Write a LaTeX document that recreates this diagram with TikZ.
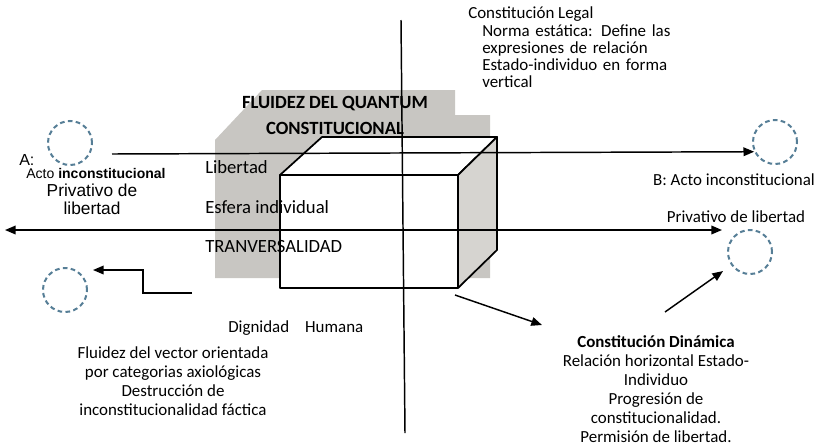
\documentclass[tikz,border=0pt]{standalone}
\usepackage{fontspec}
\setmainfont{Carlito}
\newfontfamily\arialfont{Liberation Sans}
\usetikzlibrary{arrows.meta}
\definecolor{circblue}{RGB}{86,126,150}
\definecolor{shadegray}{RGB}{200,198,194}
\definecolor{sidegray}{RGB}{214,212,208}
\lineskiplimit=-20pt
\begin{document}
\begin{tikzpicture}[x=0.75pt,y=-0.75pt,
    vec/.style={line width=1.1pt,-{Triangle[length=8pt,width=6.5pt]}},
    axis/.style={line width=1.1pt},
    ring/.style={circle,draw=circblue,line width=1.5pt,dash pattern=on 3.5pt off 2.5pt,minimum size=33pt,inner sep=0pt},
    face/.style={draw,line width=1.3pt,line join=round},
    txt/.style={inner sep=0pt,font=\fontsize{12.7}{14.25}\selectfont},
    bigtxt/.style={inner sep=0pt,font=\fontsize{14}{19.5}\selectfont}]
                    \useasboundingbox (0,0) rectangle (821,447);
                    
                    % Drawing grey shade behind the block
                    \fill [shadegray] (215,278) -- (215,140) -- (262,90) -- (455,90) -- (455,115) -- (490,115) -- (490,278) -- cycle;%
                    
                    % Drawing block faces
                    \coordinate (fa) at (280,175);%
                    \coordinate (fb) at (458,175);%
                    \coordinate (fc) at (458,288);%
                    \coordinate (fd) at (280,288);%
                    \coordinate (ba) at (322,137);%
                    \coordinate (bb) at (497,137);%
                    \coordinate (bc) at (497,250);%
                    \filldraw [face, fill=white] (fa) -- (fb) -- (fc) -- (fd) -- cycle;%
                    \filldraw [face, fill=white] (fa) -- (ba) -- (bb) -- (fb) -- cycle;%
                    \filldraw [face, fill=sidegray] (fb) -- (bb) -- (bc) -- (fc) -- cycle;%
                    
                    % Marking title and block texts
                    \node (title) [bigtxt, font=\fontsize{14}{19.5}\selectfont\bfseries, align=center] at (335,115) {FLUIDEZ DEL QUANTUM\\CONSTITUCIONAL};%
                    \node (libertad) [bigtxt, anchor=west] at (205,167) {Libertad};%
                    \node (esfera) [bigtxt, anchor=west] at (205,207) {Esfera individual};%
                    \node (tranv) [bigtxt, anchor=west] at (205,247) {TRANVERSALIDAD};%
                    
                    % Marking dashed circles
                    \node (circA) [ring] at (70,143) {};%
                    \node (circB) [ring] at (775,142) {};%
                    \node (circC) [ring] at (750,252) {};%
                    \node (circD) [ring] at (65,290) {};%
                    
                    % Drawing axis V
                    \coordinate (axtop) at (401,20);%
                    \coordinate (axbot) at (405,433);%
                    \draw [axis] (axtop) -- (axbot);%
                    
                    % Drawing vector A B
                    \coordinate (abstart) at (112,154);%
                    \draw [vec] (abstart) -- (circB.205);%
                    
                    % Drawing double vector H
                    \coordinate (midL) at (5,230);%
                    \coordinate (midR) at (722,230);%
                    \draw [vec, {Triangle[length=8pt,width=6.5pt]}-{Triangle[length=8pt,width=6.5pt]}] (midL) -- (midR);%
                    
                    % Drawing elbow vector
                    \coordinate (elbstart) at (192,293);%
                    \coordinate (elbend) at (93,270);%
                    \draw [vec] (elbstart) -- ++(-49,0) |- (elbend);%
                    
                    % Drawing vector to circle C
                    \coordinate (dynstart) at (665,312);%
                    \draw [vec, shorten >=7.5pt] (dynstart) -- (circC);%
                    
                    % Drawing vector from block corner
                    \coordinate (cornstart) at (455,295);%
                    \coordinate (cornend) at (542,325);%
                    \draw [vec] (cornstart) -- (cornend);%
                    
                    % Marking texts of A
                    \node (alabel) [inner sep=0pt, anchor=west, font=\arialfont\fontsize{12}{14}\selectfont] at (19,160) {A:};%
                    \node (aacto) [inner sep=0pt, font=\arialfont\fontsize{10.5}{13}\selectfont] at (96,173) {Acto \textbf{inconstitucional}};%
                    \node (apriv) [inner sep=0pt, align=center, font=\arialfont\fontsize{13}{13.5}\selectfont] at (92,199) {Privativo de\\libertad};%
                    
                    % Marking texts of B
                    \node (bacto) [txt] at (734,180) {B: Acto inconstitucional};%
                    \node (bpriv) [txt] at (736,217) {Privativo de libertad};%
                    
                    % Marking static constitution text
                    \node (legal) [txt, anchor=west] at (468,14) {Constitución Legal};%
                    \node (norma) [txt, font=\fontsize{12.7}{12.75}\selectfont, anchor=north west, text width=151pt, align=left] at (482,24) {%
                      \makebox[\linewidth][s]{Norma estática: Define las}\\
                      \makebox[\linewidth][s]{expresiones de relación}\\
                      \makebox[\linewidth][s]{Estado-individuo en forma}\\
                      vertical};%
                    
                    % Marking human dignity text
                    \node (dignidad) [txt, anchor=west] at (228,328) {Dignidad\hspace{12pt}Humana};%
                    \node (fluidez) [txt, align=center] at (173,381) {Fluidez del vector orientada\\por categorias axiológicas\\Destrucción de\\inconstitucionalidad fáctica};%
                    
                    % Marking dynamic constitution text
                    \node (dinamica) [txt, align=center] at (656,389) {\textbf{Constitución Dinámica}\\Relación horizontal Estado-\\Individuo\\Progresión de\\constitucionalidad.\\Permisión de libertad.};%
                \end{tikzpicture}
\end{document}
